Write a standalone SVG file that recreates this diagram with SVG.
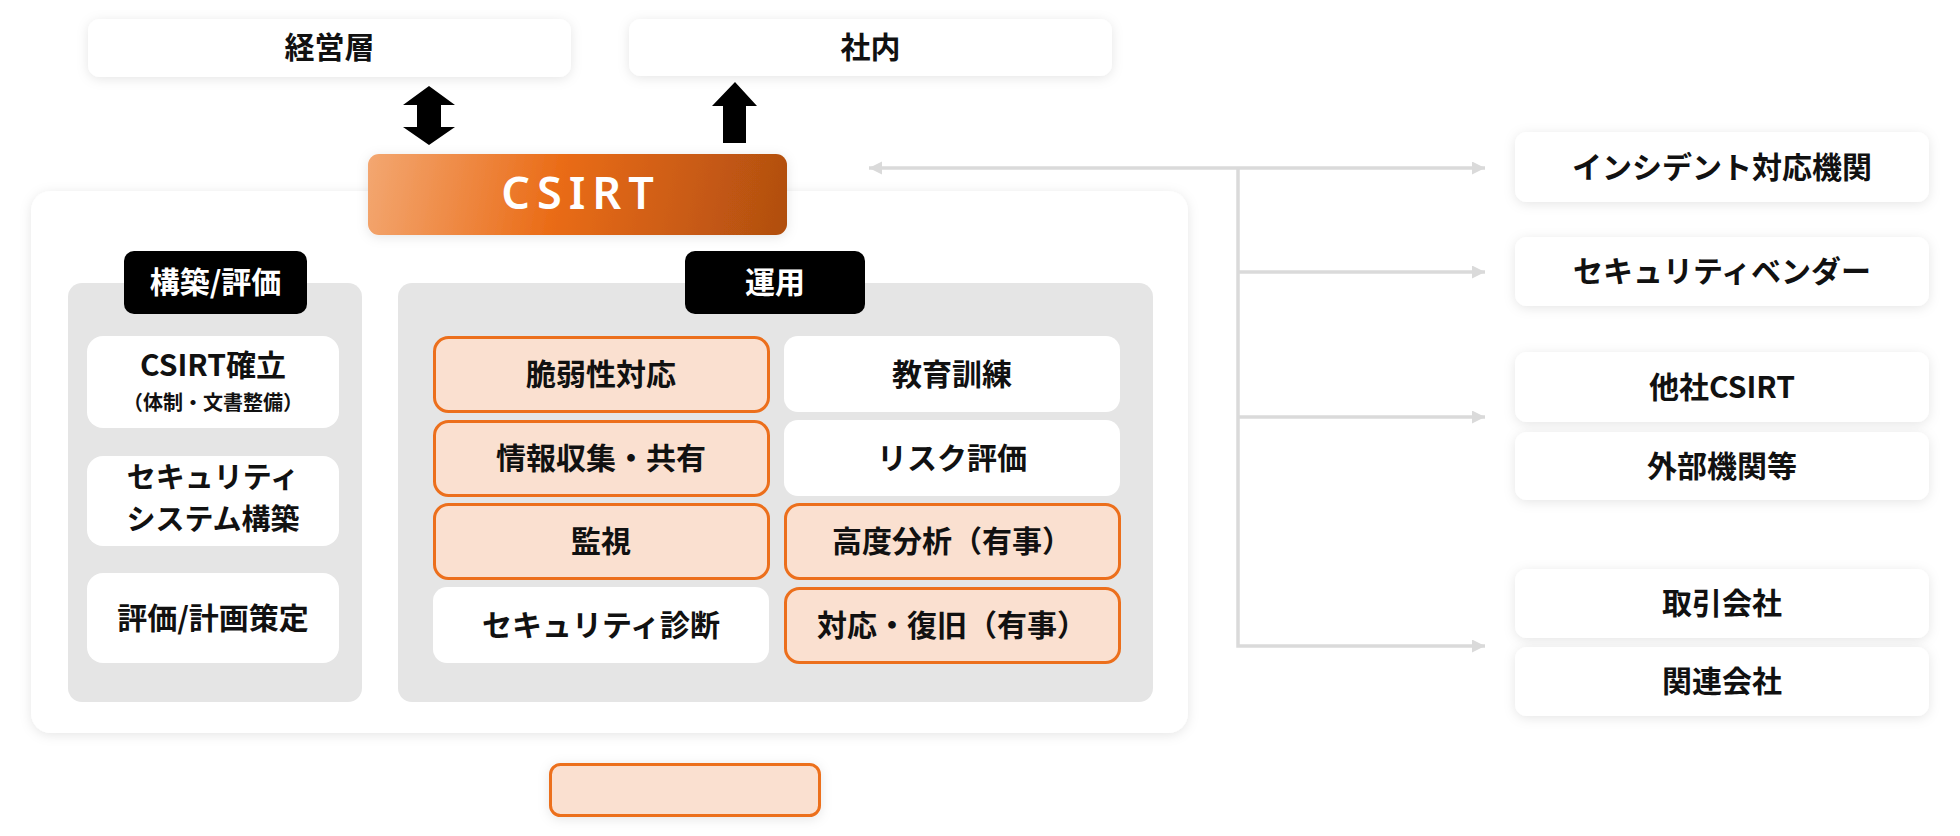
<svg xmlns="http://www.w3.org/2000/svg" width="1960" height="836" viewBox="0 0 1960 836">
<defs>
<style>
.t{font-family:"Noto Sans CJK JP","Noto Sans",sans-serif;font-weight:700;font-size:30px;fill:#111;text-anchor:middle}
.w{fill:#fff}
.s{font-size:20px}
.m{font-size:29px}
.card{fill:#fff}
.or{fill:#fae0d0;stroke:#ec6f1c;stroke-width:3}
.gp{fill:#e5e5e5}
.lbl{fill:#000}
.cn{fill:none;stroke:#dadada;stroke-width:3.5}
</style>
<filter id="sh" x="-20%" y="-40%" width="140%" height="180%">
<feDropShadow dx="0" dy="2" stdDeviation="6" flood-color="#000" flood-opacity="0.1"/>
</filter>
<linearGradient id="og" gradientUnits="userSpaceOnUse" x1="368" y1="154" x2="787" y2="235">
<stop offset="0" stop-color="#f3a771"/>
<stop offset="0.45" stop-color="#ea6c17"/>
<stop offset="1" stop-color="#b04e10"/>
</linearGradient>
<marker id="ah" markerUnits="userSpaceOnUse" markerWidth="14" markerHeight="14" refX="13" refY="6.5" orient="auto-start-reverse">
<path d="M0,0 L13,6.5 L0,13 z" fill="#dadada"/>
</marker>
</defs>
<rect width="1960" height="836" fill="#fff"/>

<g id="main-panel">
<rect x="31" y="191" width="1157" height="542" rx="20" class="card" filter="url(#sh)"/>
</g>

<g id="top-exec">
<rect x="88" y="19" width="483" height="58" rx="12" class="card" filter="url(#sh)"/>
<text x="329.5" y="58" class="t">経営層</text>
</g>
<g id="top-internal">
<rect x="629" y="19" width="483" height="57" rx="12" class="card" filter="url(#sh)"/>
<text x="870.5" y="58" class="t">社内</text>
</g>

<g id="arrows-black">
<polygon points="429,86 455,105 441,105 441,127 455,127 429,145 403,127 417,127 417,105 403,105" fill="#000"/>
<polygon points="735,82 757,106 746,106 746,143 723,143 723,106 712,106" fill="#000"/>
</g>

<g id="csirt">
<rect x="368" y="154" width="419" height="81" rx="11" fill="url(#og)" filter="url(#sh)"/>
<text x="581" y="209" style="font-family:'Noto Sans',Roboto,sans-serif;font-weight:600;font-size:45px;fill:#fff;text-anchor:middle;letter-spacing:7px">CSIRT</text>
</g>

<g id="panel-build">
<rect x="68" y="283" width="294" height="419" rx="14" class="gp"/>
<rect x="124" y="251" width="183" height="63" rx="10" class="lbl"/>
<text x="215.5" y="293" class="t w">構築/評価</text>
</g>
<g id="panel-ops">
<rect x="398" y="283" width="755" height="419" rx="14" class="gp"/>
<rect x="685" y="251" width="180" height="63" rx="10" class="lbl"/>
<text x="775" y="293" class="t w">運用</text>
</g>

<g id="n-csirt-est">
<rect x="87" y="336" width="252" height="92" rx="16" class="card"/>
<text x="213" y="376" class="t">CSIRT確立</text>
<text x="213" y="410" class="t s">（体制・文書整備）</text>
</g>
<g id="n-sec-sys">
<rect x="87" y="456" width="252" height="90" rx="16" class="card"/>
<text x="213" y="488" class="t m">セキュリティ</text>
<text x="213" y="530" class="t m">システム構築</text>
</g>
<g id="n-eval">
<rect x="87" y="573" width="252" height="90" rx="16" class="card"/>
<text x="213" y="628.5" class="t">評価/計画策定</text>
</g>

<g id="n-vuln">
<rect x="434.5" y="337.5" width="334" height="74" rx="14" class="or"/>
<text x="601" y="385" class="t">脆弱性対応</text>
</g>
<g id="n-edu">
<rect x="784" y="336" width="336" height="76" rx="14" class="card"/>
<text x="952" y="385" class="t">教育訓練</text>
</g>
<g id="n-info">
<rect x="434.5" y="421.5" width="334" height="74" rx="14" class="or"/>
<text x="601" y="468.5" class="t">情報収集・共有</text>
</g>
<g id="n-risk">
<rect x="784" y="420" width="336" height="76" rx="14" class="card"/>
<text x="952" y="468.5" class="t">リスク評価</text>
</g>
<g id="n-mon">
<rect x="434.5" y="504.5" width="334" height="74" rx="14" class="or"/>
<text x="601" y="552" class="t">監視</text>
</g>
<g id="n-adv">
<rect x="785.5" y="504.5" width="334" height="74" rx="14" class="or"/>
<text x="952" y="552" class="t">高度分析（有事）</text>
</g>
<g id="n-diag">
<rect x="433" y="587" width="336" height="76" rx="14" class="card"/>
<text x="601" y="635.5" class="t">セキュリティ診断</text>
</g>
<g id="n-resp">
<rect x="785.5" y="588.5" width="334" height="74" rx="14" class="or"/>
<text x="952" y="635.5" class="t">対応・復旧（有事）</text>
</g>

<g id="n-bottom">
<rect x="550.5" y="764.5" width="269" height="51" rx="10" class="or" filter="url(#sh)"/>
</g>

<g id="n-incident">
<rect x="1515" y="132" width="414" height="70" rx="12" class="card" filter="url(#sh)"/>
<text x="1722" y="177.5" class="t">インシデント対応機関</text>
</g>
<g id="n-vendor">
<rect x="1515" y="237" width="414" height="69" rx="12" class="card" filter="url(#sh)"/>
<text x="1722" y="282" class="t">セキュリティベンダー</text>
</g>
<g id="n-other">
<rect x="1515" y="352" width="414" height="70" rx="12" class="card" filter="url(#sh)"/>
<text x="1722" y="397.5" class="t">他社CSIRT</text>
</g>
<g id="n-external">
<rect x="1515" y="432" width="414" height="68" rx="12" class="card" filter="url(#sh)"/>
<text x="1722" y="476.5" class="t">外部機関等</text>
</g>
<g id="n-partner">
<rect x="1515" y="569" width="414" height="69" rx="12" class="card" filter="url(#sh)"/>
<text x="1722" y="614" class="t">取引会社</text>
</g>
<g id="n-affiliate">
<rect x="1515" y="647" width="414" height="69" rx="12" class="card" filter="url(#sh)"/>
<text x="1722" y="692" class="t">関連会社</text>
</g>

<g id="connectors">
<path class="cn" d="M869,168 L1485,168" marker-start="url(#ah)" marker-end="url(#ah)"/>
<path class="cn" d="M1238,168 L1238,646 L1485,646" marker-end="url(#ah)"/>
<path class="cn" d="M1238,272 L1485,272" marker-end="url(#ah)"/>
<path class="cn" d="M1238,417 L1485,417" marker-end="url(#ah)"/>
</g>
</svg>
